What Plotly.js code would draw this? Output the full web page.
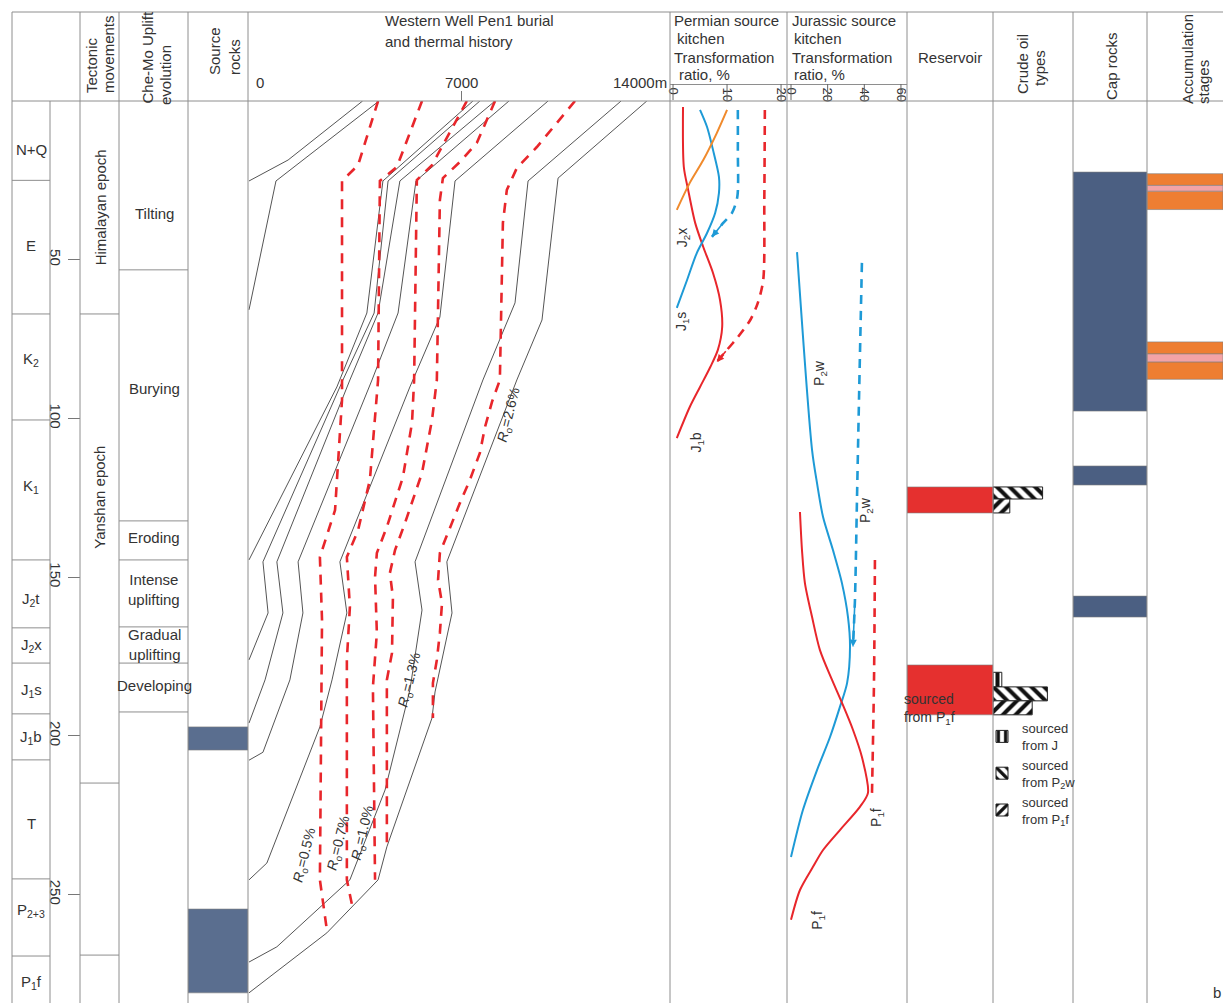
<!DOCTYPE html>
<html><head><meta charset="utf-8">
<script src="https://cdn.plot.ly/plotly-3.0.1.min.js"></script>
<style>body{margin:0;background:#fff}#chart{width:1223px;height:1003px}</style>
</head><body><div id="chart"></div>
<script>
// ---------------- DATA (ages in Ma, depth in m, transformation ratio in %) ----------------
const stratUnits = ['N+Q','E','K<sub>2</sub>','K<sub>1</sub>','J<sub>2</sub>t','J<sub>2</sub>x','J<sub>1</sub>s','J<sub>1</sub>b','T','P<sub>2+3</sub>','P<sub>1</sub>f'];
const stratBounds = [0,25,67.1,100.5,144.6,166,177.1,193.1,207.6,245.1,269.4,284.2];
const stratLabelAges = [15.4,45.4,81.6,121.6,157.2,171.7,185.6,200.4,227.5,254.9,277.6];
const ageTicks = [50,100,150,200,250];

const tectonicNames = ['Himalayan epoch','Yanshan epoch'];
const tectonicBounds = [67.1,214.9,269.1];
const tectonicLabelAges = [33.5,125];

const upliftStages = ['Tilting','Burying','Eroding','Intense<br>uplifting','Gradual<br>uplifting','Developing'];
const upliftBounds = [53.2,132.3,144.6,165.7,177.1,192.5];
const upliftLabelAges = [35.3,90.7,137.4,154,171.4,184.3];

const sourceRockTop = [197.2,254.6];
const sourceRockBase = [204.5,281];

// burial history: depth (m) vs age (Ma) for each horizon
const hNQDepth = [0,1290,3750];                 const hNQAge = [25.2,18.6,0];
const hEDepth  = [0,890,4290];                  const hEAge  = [65.8,25.2,0];
const h1Depth = [0,2900,3890,4420,7390];        const h1Age = [144.6,90.1,66.8,25.2,0];
const h2Depth = [0,630,460,3100,4130,4590,7620]; const h2Age = [176.1,161.3,145.2,87.9,66.8,25.2,0];
const h3Depth = [0,530,1120,920,3330,4260,4980,8120]; const h3Age = [196,182.4,161.3,145.2,87.9,66.8,25.2,0];
const h4Depth = [0,460,1350,1780,1620,4060,4920,5510,8580]; const h4Age = [207.7,205.2,182.4,161.3,145.2,87.9,66.8,25.2,0];
const h5Depth = [0,590,2340,2740,3230,3000,5310,6300,6800,9870]; const h5Age = [245.4,240.1,197.2,182.4,161.3,145.2,90.1,68.1,25.2,0];
const h6Depth = [0,920,3330,4490,5310,5710,5480,7720,8780,9210,12280]; const h6Age = [271.3,266.5,245.4,217.1,185.6,160.4,145.2,87.9,63.6,25.2,0];
const h7Depth = [0,2570,4260,4550,6040,6140,6700,6530,8840,9670,10200,13130]; const h7Age = [281,262.1,245.4,235,194.4,186.2,161.3,145.2,87.9,69,24.3,0];

// vitrinite reflectance isolines
const ro05Depth = [4260,3600,3070,3070,2840,2340,2410,2340,2570];
const ro05Age   = [0,20.2,25.2,94.2,128.9,143.7,163.5,245.4,261.2];
const ro07Depth = [5710,4880,4320,4260,3990,3600,3230,3330,3230,3230,3400];
const ro07Age   = [0,20.8,25.2,87.9,119.4,135.2,143.7,159.4,176.1,245.4,253.3];
const ro10Depth = [7190,6040,5540,5450,5380,5080,4550,4220,4160,4220,4090,4160];
const ro10Age   = [0,20.2,24.9,87.9,101.4,118.5,134.2,142.4,150,167.6,184.6,245.4];
const ro13Depth = [8120,7520,6960,6400,6300,6200,6040,5710,5150,4820,4650,4750,4720,4550,4550];
const ro13Age   = [0,13.2,19.2,24.3,31.2,87.9,100.5,117.2,132.9,141.5,148.7,156.3,173.9,182.4,235];
const ro26Depth = [10760,10030,9500,8840,8510,8380,8280,8020,7790,7620,7290,6960,6630,6300,6240,6370,6300,6200,6070,6070];
const ro26Age   = [0,8.5,14.5,21.1,28,38.4,87.9,94.8,102.7,110.9,119.4,126.7,134.5,142.4,150.9,158.2,167.6,176.1,183.4,194.4];
const roLabels = ['<i>R</i><sub>o</sub>=0.5%','<i>R</i><sub>o</sub>=0.7%','<i>R</i><sub>o</sub>=1.0%','<i>R</i><sub>o</sub>=1.3%','<i>R</i><sub>o</sub>=2.6%'];
const roLabelDepth = [1850,2970,3760,5310,8580];
const roLabelAge = [237.6,233.8,230.6,182.4,98.9];

const depthTickVals = [0,7000,14000];
const depthTickText = ['0','7000','14000m'];

// Permian source kitchen transformation ratio (%)
const permTicks = [0,10,20];
const pJ1bTR = [1.85,2.0,2.8,4.1,5.6,7.4,8.7,9.1,8.3,6.9,5.0,3.1,0.7];
const pJ1bAge = [1.9,20.8,28.0,38.4,46.0,54.2,62.7,71.2,78.4,83.8,90.1,96.4,106.2];
const pJ1sTR = [5.0,6.3,7.4,8.5,8.5,7.8,6.3,4.4,2.6,0.7];
const pJ1sAge = [2.8,8.2,15.4,23.9,29.0,35.3,41.6,47.9,56.4,65.2];
const pJ2xTR = [10,8.1,5.6,3.1,0.7];
const pJ2xAge = [2.8,10.1,18.6,25.8,34.3];
const pJ1sDashTR = [12.0,12.0,11.9,10.9,9.3,7.2];
const pJ1sDashAge = [2.8,15.4,30.2,35.3,38.4,42.8];
const pJ1bDashTR = [17.0,16.9,16.7,15.7,14.3,12.0,10.0,8.1];
const pJ1bDashAge = [2.8,31.2,56.4,63.6,69.0,74.4,78.4,82.2];
const permLabels = ['J<sub>2</sub>x','J<sub>1</sub>s','J<sub>1</sub>b'];
const permLabelTR = [1.85,1.7,4.4];
const permLabelAge = [43.2,69.6,107.7];

// Jurassic source kitchen transformation ratio (%)
const jurTicks = [0,20,40,60];
const jP2wTR = [3.3,11.5,14.2,17.5,22.9,27.8,31.1,32.2,30.6,26.7,21.3,14.2,6.5,0];
const jP2wAge = [47.6,110,120.4,131.1,141.5,151.9,162.6,172,183.4,190.9,200.4,210.8,223.4,238.2];
const jP2wDashTR = [38.7,37.1,36.0,34.9,33.8];
const jP2wDashAge = [51.0,94.2,125.7,157.2,172.0];
const jP1fTR = [4.9,6.0,7.6,11.5,15.8,22.4,27.8,33.8,38.7,42.0,37.6,26.7,17.5,12.0,4.9,0];
const jP1fAge = [129.5,141.5,151.9,162.6,173,182.4,189.6,198.1,206.7,218,222.4,229.7,236,241.3,248.6,258];
const jP1fDashTR = [45.8,45.3,44.2];
const jP1fDashAge = [144.6,182.4,218];
const jurLabels = ['P<sub>2</sub>w','P<sub>2</sub>w','P<sub>1</sub>f','P<sub>1</sub>f'];
const jurLabelTR = [15.8,40.9,46.9,14.7];
const jurLabelAge = [85.7,128.9,225.6,258];

// Reservoir, crude oil types, cap rocks, accumulation stages
const reservoirTop = [121.6,177.7];
const reservoirBase = [129.8,193.4];
const reservoirNote = 'sourced<br>from P<sub>1</sub>f';
const crudeJTop = [180];    const crudeJBase = [184.6];     const crudeJLen = [0.11];
const crudeP2wTop = [121.6,184.6]; const crudeP2wBase = [125.4,189]; const crudeP2wLen = [0.62,0.68];
const crudeP1fTop = [125.4,189];   const crudeP1fBase = [129.8,193.4]; const crudeP1fLen = [0.21,0.49];
const crudeNames = ['sourced<br>from J','sourced<br>from P<sub>2</sub>w','sourced<br>from P<sub>1</sub>f'];
const capTop = [22.4,115,156];
const capBase = [97.7,121,162.6];
const accOrangeTop = [22.9,28.4,75.9,82.2];
const accOrangeBase = [26.6,34.2,79.7,87.7];
const accPinkTop = [26.6,79.7];
const accPinkBase = [28.4,82.2];

// ---------------- LAYOUT HELPERS ----------------
const W = 1223, H = 1003, T = 12;
const X = p => p / W;
const Y = p => (H - p) / (H - T);
const GRID = '#8e8e8e';
const TXT = '#333';
const RED = '#E8262B', BLUE = '#1E9AD6', ORANGE = '#F08A2C';

const traces = [];
function hbar(xaxis, tops, bases, lens, color, extra) {
  return Object.assign({
    type: 'bar', orientation: 'h', xaxis: xaxis, yaxis: 'y',
    y: tops.map((t, i) => (t + bases[i]) / 2),
    width: tops.map((t, i) => bases[i] - t),
    x: lens, base: 0,
    marker: {color: color, line: {color: '#7d7d7d', width: 0.6}},
    hoverinfo: 'skip', showlegend: false
  }, extra || {});
}
const ones = a => a.map(() => 1);

// source rocks
traces.push(hbar('x8', sourceRockTop, sourceRockBase, ones(sourceRockTop), '#5A6E8F'));

// burial curves
[[hNQDepth,hNQAge],[hEDepth,hEAge],[h1Depth,h1Age],[h2Depth,h2Age],[h3Depth,h3Age],
 [h4Depth,h4Age],[h5Depth,h5Age],[h6Depth,h6Age],[h7Depth,h7Age]].forEach(([d, a]) => {
  traces.push({type:'scatter', mode:'lines', xaxis:'x', yaxis:'y', x:d, y:a,
    line:{color:'#555', width:1}, hoverinfo:'skip', showlegend:false});
});
// Ro isolines
[[ro05Depth,ro05Age],[ro07Depth,ro07Age],[ro10Depth,ro10Age],[ro13Depth,ro13Age],[ro26Depth,ro26Age]].forEach(([d, a]) => {
  traces.push({type:'scatter', mode:'lines', xaxis:'x', yaxis:'y', x:d, y:a,
    line:{color:RED, width:2.6, dash:'10px,8px'}, hoverinfo:'skip', showlegend:false});
});

// transformation ratio curves
function trLine(ax, x, y, color, dash) {
  traces.push({type:'scatter', mode:'lines', xaxis:ax, yaxis:'y', x:x, y:y,
    line:{color:color, width:dash ? 2.6 : 2, dash:dash ? '9px,7px' : 'solid', shape:'spline', smoothing:0.8},
    hoverinfo:'skip', showlegend:false});
}
trLine('x2', pJ1bTR, pJ1bAge, RED);
trLine('x2', pJ1sTR, pJ1sAge, BLUE);
trLine('x2', pJ2xTR, pJ2xAge, ORANGE);
trLine('x2', pJ1sDashTR, pJ1sDashAge, BLUE, true);
trLine('x2', pJ1bDashTR, pJ1bDashAge, RED, true);
trLine('x3', jP2wTR, jP2wAge, BLUE);
trLine('x3', jP2wDashTR, jP2wDashAge, BLUE, true);
trLine('x3', jP1fTR, jP1fAge, RED);
trLine('x3', jP1fDashTR, jP1fDashAge, RED, true);

// reservoir
traces.push(hbar('x4', reservoirTop, reservoirBase, ones(reservoirTop), '#E5302F'));
// crude oil types (patterned)
function pat(shape) { return {shape: shape, fgcolor: '#111', bgcolor: '#fff', size: 9, solidity: 0.45, fillmode: 'replace'}; }
traces.push(hbar('x5', crudeJTop, crudeJBase, crudeJLen, '#fff', {name: crudeNames[0], showlegend: true,
  marker: {color: '#fff', line: {color: '#222', width: 1}, pattern: pat('|')}}));
traces.push(hbar('x5', crudeP2wTop, crudeP2wBase, crudeP2wLen, '#fff', {name: crudeNames[1], showlegend: true,
  marker: {color: '#fff', line: {color: '#222', width: 1}, pattern: pat('\\')}}));
traces.push(hbar('x5', crudeP1fTop, crudeP1fBase, crudeP1fLen, '#fff', {name: crudeNames[2], showlegend: true,
  marker: {color: '#fff', line: {color: '#222', width: 1}, pattern: pat('/')}}));
// cap rocks
traces.push(hbar('x6', capTop, capBase, ones(capTop), '#4B5F82'));
// accumulation stages
traces.push(hbar('x7', accOrangeTop, accOrangeBase, ones(accOrangeTop), '#EE7E32'));
traces.push(hbar('x7', accPinkTop, accPinkBase, ones(accPinkTop), '#F3A3A6'));

// ---------------- SHAPES ----------------
const shapes = [];
function pline(x0, y0, x1, y1) { shapes.push({type:'line', xref:'paper', yref:'paper', x0:X(x0), y0:Y(y0), x1:X(x1), y1:Y(y1), line:{color:GRID, width:1}}); }
[12,80,119,188,248,670,787,907,993,1073,1147].forEach(x => pline(x, 12, x, H));
pline(50, 101, 50, H);
pline(12, 12, W, 12);
pline(12, 101, W, 101);
function ageLine(x0, x1, age) { shapes.push({type:'line', xref:'paper', yref:'y', x0:X(x0), x1:X(x1), y0:age, y1:age, line:{color:GRID, width:1}}); }
stratBounds.slice(1, -1).forEach(a => ageLine(12, 50, a));
tectonicBounds.forEach(a => ageLine(80, 119, a));
upliftBounds.forEach(a => ageLine(119, 188, a));
// TR axis ticks crossing the labels
permTicks.forEach(v => shapes.push({type:'line', xref:'x2', yref:'paper', x0:v, x1:v, y0:Y(84), y1:Y(100), line:{color:'#666', width:1}}));
jurTicks.forEach(v => shapes.push({type:'line', xref:'x3', yref:'paper', x0:v, x1:v, y0:Y(84), y1:Y(100), line:{color:'#666', width:1}}));

// ---------------- ANNOTATIONS ----------------
const ann = [];
function pt(px, py, text, o) {
  ann.push(Object.assign({xref:'paper', yref:'paper', x:X(px), y:Y(py), text:text, showarrow:false,
    font:{size:15, color:TXT}, xanchor:'center', yanchor:'middle'}, o || {}));
}
// headers
pt(91, 95, 'Tectonic', {textangle:-90, yanchor:'bottom'});
pt(108, 95, 'movements', {textangle:-90, yanchor:'bottom'});
pt(147, 106, 'Che-Mo Uplift', {textangle:-90, yanchor:'bottom'});
pt(165, 107, 'evolution', {textangle:-90, yanchor:'bottom'});
pt(215, 77, 'Source', {textangle:-90, yanchor:'bottom'});
pt(235, 77, 'rocks', {textangle:-90, yanchor:'bottom'});
pt(383, 21, 'Western Well Pen1 burial', {xanchor:'left'});
pt(383, 41, 'and thermal history', {xanchor:'left'});
pt(672, 20, 'Permian source', {xanchor:'left'});
pt(675, 38, 'kitchen', {xanchor:'left'});
pt(672, 57, 'Transformation', {xanchor:'left'});
pt(677, 74, 'ratio, %', {xanchor:'left'});
pt(790, 20, 'Jurassic source', {xanchor:'left'});
pt(792, 38, 'kitchen', {xanchor:'left'});
pt(790, 57, 'Transformation', {xanchor:'left'});
pt(792, 74, 'ratio, %', {xanchor:'left'});
pt(950, 57, 'Reservoir');
pt(1023, 64, 'Crude oil', {textangle:-90});
pt(1039, 68, 'types', {textangle:-90});
pt(1111, 66, 'Cap rocks', {textangle:-90});
pt(1188, 106, 'Accumulation', {textangle:-90, yanchor:'bottom'});
pt(1204, 106, 'stages', {textangle:-90, yanchor:'bottom'});
pt(1217, 992, 'b');
// depth axis labels
const depthAnchors = ['left','center','right'];
const depthShift = [5, 0, -4];
depthTickVals.forEach((v, i) => ann.push({xref:'x', yref:'paper', x:v, y:Y(82), text:depthTickText[i], showarrow:false,
  xanchor:depthAnchors[i], xshift:depthShift[i], yanchor:'middle', font:{size:15, color:TXT}}));
// strat units, tectonic epochs, uplift stages
stratUnits.forEach((s, i) => ann.push({xref:'paper', yref:'y', x:X(31), y:stratLabelAges[i], text:s, showarrow:false,
  xanchor:'center', yanchor:'middle', font:{size:15, color:TXT}}));
tectonicNames.forEach((s, i) => ann.push({xref:'paper', yref:'y', x:X(100), y:tectonicLabelAges[i], text:s, textangle:-90, showarrow:false,
  xanchor:'center', yanchor:'middle', font:{size:15, color:TXT}}));
upliftStages.forEach((s, i) => ann.push({xref:'paper', yref:'y', x:X(154), y:upliftLabelAges[i], text:s, showarrow:false,
  xanchor:'center', yanchor:'middle', font:{size:15, color:TXT}}));
// Ro labels
roLabels.forEach((s, i) => ann.push({xref:'x', yref:'y', x:roLabelDepth[i], y:roLabelAge[i], text:s, textangle:-76, showarrow:false,
  xanchor:'center', yanchor:'middle', font:{size:14, color:TXT}}));
// TR labels
permLabels.forEach((s, i) => ann.push({xref:'x2', yref:'y', x:permLabelTR[i], y:permLabelAge[i], text:s, textangle:-90, showarrow:false,
  xanchor:'center', yanchor:'middle', font:{size:14, color:TXT}}));
jurLabels.forEach((s, i) => ann.push({xref:'x3', yref:'y', x:jurLabelTR[i], y:jurLabelAge[i], text:s, textangle:-90, showarrow:false,
  xanchor:'center', yanchor:'middle', font:{size:14, color:TXT}}));
// arrow heads at the end of dashed curves
function arrowEnd(ax, xs, ys, color) {
  const n = xs.length;
  ann.push({xref:ax, yref:'y', axref:ax, ayref:'y', x:xs[n-1], y:ys[n-1], ax:xs[n-2], ay:ys[n-2], text:'',
    showarrow:true, arrowhead:2, arrowsize:0.9, arrowwidth:1.6, arrowcolor:color, standoff:0, startstandoff:0});
}
arrowEnd('x2', pJ1sDashTR, pJ1sDashAge, BLUE);
arrowEnd('x2', pJ1bDashTR, pJ1bDashAge, RED);
arrowEnd('x3', jP2wDashTR, jP2wDashAge, BLUE);
// reservoir note
ann.push({xref:'paper', yref:'y', x:X(902), y:(reservoirTop[1] + reservoirBase[1]) / 2 + 6, text:reservoirNote, align:'left',
  xanchor:'left', yanchor:'middle', showarrow:false, font:{size:14, color:TXT}});

// ---------------- AXES ----------------
const hidden = (d0, d1) => ({domain:[X(d0), X(d1)], range:[0, 1], visible:false, anchor:'y', fixedrange:true});
const layout = {
  width: W, height: H,
  margin: {l:0, r:0, t:T, b:0, pad:0},
  paper_bgcolor: '#fff', plot_bgcolor: 'rgba(0,0,0,0)',
  font: {family:'Liberation Sans, Arial, sans-serif', size:15, color:TXT},
  barmode: 'overlay', bargap: 0,
  showlegend: true,
  legend: {x:X(982), y:Y(713), xanchor:'left', yanchor:'top', bgcolor:'rgba(0,0,0,0)', font:{size:13, color:TXT},
    tracegroupgap:0, itemwidth:30, traceorder:'normal'},
  yaxis: {domain:[0, Y(101)], range:[284.2, 0], anchor:'free', position:X(80), side:'left',
    ticks:'outside', ticklen:12, tickcolor:'#777', tickvals:ageTicks, tickangle:90,
    showgrid:false, zeroline:false, showline:false, tickfont:{size:15, color:TXT}, fixedrange:true},
  xaxis: {domain:[X(248), X(674)], range:[-33, 14027], anchor:'free', position:Y(101), side:'top',
    ticks:'outside', ticklen:10, tickcolor:'#777', tickvals:[depthTickVals[1]], showticklabels:false,
    showgrid:false, zeroline:false, showline:false, fixedrange:true},
  xaxis2: {domain:[X(670), X(787)], range:[-0.56, 21.1], anchor:'free', position:Y(84), side:'bottom',
    showline:true, linecolor:GRID, ticks:'', tickvals:permTicks, tickangle:90, tickfont:{size:13, color:TXT},
    showgrid:false, zeroline:false, fixedrange:true},
  xaxis3: {domain:[X(787), X(907)], range:[-2.18, 63.3], anchor:'free', position:Y(84), side:'bottom',
    showline:true, linecolor:GRID, ticks:'', tickvals:jurTicks, tickangle:90, tickfont:{size:13, color:TXT},
    showgrid:false, zeroline:false, fixedrange:true},
  xaxis4: hidden(907, 993),
  xaxis5: hidden(993, 1073),
  xaxis6: hidden(1073, 1147),
  xaxis7: hidden(1147, 1223),
  xaxis8: hidden(188, 248),
  shapes: shapes,
  annotations: ann
};

Plotly.newPlot('chart', traces, layout, {displayModeBar:false, staticPlot:true});
</script>
</body></html>
